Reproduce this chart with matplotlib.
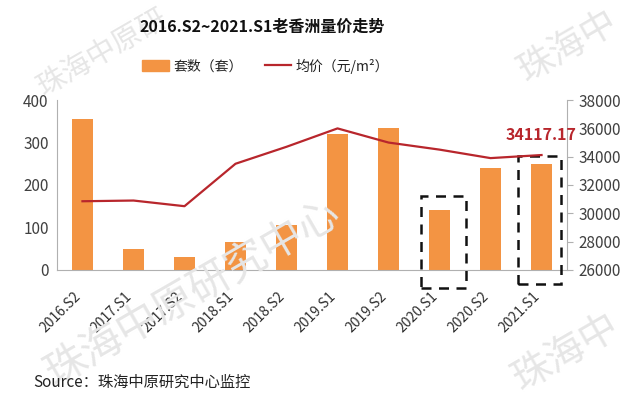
import matplotlib
matplotlib.use("Agg")
import matplotlib.pyplot as plt
from matplotlib.patches import Rectangle
from matplotlib.lines import Line2D
from matplotlib.transforms import ScaledTranslation

plt.rcParams['font.family'] = ['Noto Sans CJK SC', 'DejaVu Sans']

categories = ["2016.S2", "2017.S1", "2017.S2", "2018.S1", "2018.S2",
              "2019.S1", "2019.S2", "2020.S1", "2020.S2", "2021.S1"]
units = [355, 49, 31, 65, 106, 319, 335, 140, 239, 249]
price = [30850, 30900, 30500, 33500, 34700, 36000, 35000, 34500, 33900, 34117.17]
left_ticks = [0, 100, 200, 300, 400]
right_ticks = [26000, 28000, 30000, 32000, 34000, 36000, 38000]

bar_color = "#f39443"
line_color = "#b8262c"
text_color = "#404040"
spine_color = "#b0b0b0"

fig = plt.figure(figsize=(6.4, 4.07), dpi=100)
fig.patch.set_facecolor("white")

# watermarks
wm = dict(color="#e6e6e6", rotation=30, ha="left", va="bottom", zorder=0)
fig.text(0.05, 0.75, "珠海中原研", fontsize=21, **wm)
fig.text(0.80, 0.78, "珠海中", fontsize=26, **wm)
fig.text(0.06, 0.03, "珠海中原研究中心", fontsize=30, **wm)
fig.text(0.79, 0.02, "珠海中", fontsize=28, **wm)

ax = fig.add_axes([0.089, 0.337, 0.797, 0.417])
ax.set_facecolor("none")
x = list(range(len(categories)))
ax.bar(x, units, width=0.41, color=bar_color, zorder=2)
ax.set_xlim(-0.5, len(categories) - 0.5)
ax.set_ylim(0, 400)
ax.set_yticks(left_ticks)
ax.set_yticklabels([str(v) for v in left_ticks], fontsize=11, color=text_color)
ax.set_xticks(x)
ax.set_xticklabels(categories, rotation=45, ha="right", rotation_mode="anchor",
                   fontsize=10, color="#303030")
ax.tick_params(axis="y", length=0, pad=6)
ax.tick_params(axis="x", length=0, pad=14)
shift = ScaledTranslation(-9 / 100, 0, fig.dpi_scale_trans)
for lbl in ax.get_xticklabels():
    lbl.set_transform(lbl.get_transform() + shift)
for s in ["top", "right"]:
    ax.spines[s].set_visible(False)
ax.spines["left"].set_color(spine_color)
ax.spines["bottom"].set_color(spine_color)

ax2 = ax.twinx()
ax2.plot(x, price, color=line_color, lw=1.6, zorder=3)
ax2.set_ylim(26000, 38000)
ax2.set_yticks(right_ticks)
ax2.set_yticklabels([str(v) for v in right_ticks], fontsize=11, color=text_color)
ax2.tick_params(axis="y", length=4, color=spine_color, pad=4)
for s in ["top", "left", "bottom"]:
    ax2.spines[s].set_visible(False)
ax2.spines["right"].set_color(spine_color)

ax2.annotate(f"{price[-1]:.2f}", xy=(x[-1], price[-1]), xytext=(0, 9),
             textcoords="offset points", ha="center", va="bottom",
             color=line_color, fontsize=11.5, fontweight="bold")

# dashed highlight boxes (in bar axis units)
for xi, dx0, dx1, y1, y0 in [(7, -0.37, 0.51, 174, -42), (9, -0.47, 0.39, 268, -33)]:
    r = Rectangle((xi + dx0, y0), dx1 - dx0, y1 - y0, fill=False, ls=(0, (4, 3)),
                  lw=1.8, ec="#111111", clip_on=False, zorder=5)
    ax.add_patch(r)

fig.text(0.41, 0.935, "2016.S2~2021.S1老香洲量价走势", ha="center", va="center",
         fontsize=11.5, fontweight="bold", color="#111111")

handles = [Rectangle((0, 0), 1, 1, color=bar_color),
           Line2D([0], [0], color=line_color, lw=1.6)]
fig.legend(handles, ["套数（套）", "均价（元/m²）"], loc="center",
           bbox_to_anchor=(0.415, 0.838), ncol=2, frameon=False, fontsize=10,
           handlelength=1.9, handleheight=0.9, columnspacing=1.6, handletextpad=0.3,
           labelcolor="#222222")

fig.text(0.052, 0.06, "Source：珠海中原研究中心监控", ha="left", va="center",
         fontsize=11, color="#222222")

fig.savefig("out.png", dpi=100)
